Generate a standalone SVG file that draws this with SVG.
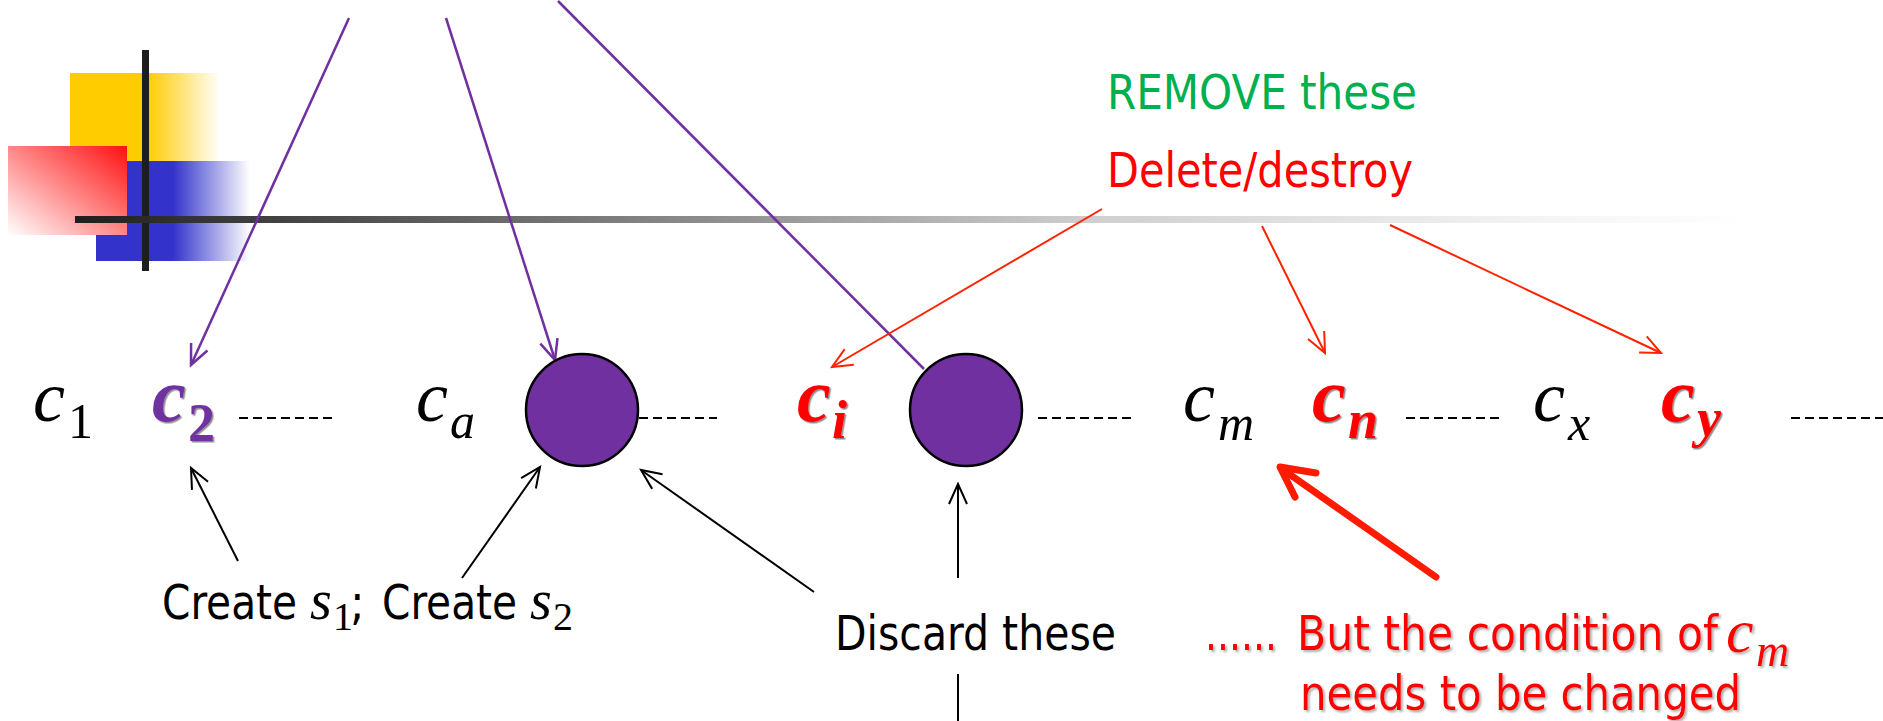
<svg xmlns="http://www.w3.org/2000/svg" width="1883" height="721" viewBox="0 0 1883 721">
  <style>
    .lbl { font-family: "DejaVu Sans", "Liberation Sans", sans-serif; font-stretch: condensed; font-size: 48px; }
    .it { font-family: "Liberation Serif", "Times New Roman", "DejaVu Serif", serif; font-style: italic; font-weight: normal; }
    .bi { font-family: "Liberation Serif", "Times New Roman", "DejaVu Serif", serif; font-style: italic; font-weight: bold; }
    .up { font-family: "Liberation Serif", "Times New Roman", "DejaVu Serif", serif; font-style: normal; font-weight: normal; }
    .bu { font-family: "Liberation Serif", "Times New Roman", "DejaVu Serif", serif; font-style: normal; font-weight: bold; }
    .dash { stroke: #000; stroke-width: 2; stroke-dasharray: 9 5; fill: none; }
    .pline { stroke: #7030A0; stroke-width: 2.5; fill: none; }
    .bline { stroke: #000; stroke-width: 2; fill: none; }
    .rline { stroke: #FF2200; stroke-width: 2; fill: none; }
    .dot { fill: #7030A0; stroke: #000; stroke-width: 2.5; }
  </style>
  <defs>
    <linearGradient id="gYellow" x1="0" y1="0" x2="1" y2="0">
      <stop offset="0" stop-color="#FFCC00"/>
      <stop offset="0.52" stop-color="#FFCC00"/>
      <stop offset="1" stop-color="#FFFFFF"/>
    </linearGradient>
    <linearGradient id="gBlue" x1="0" y1="0" x2="1" y2="0">
      <stop offset="0" stop-color="#3333CC"/>
      <stop offset="0.5" stop-color="#3333CC"/>
      <stop offset="1" stop-color="#FFFFFF"/>
    </linearGradient>
    <linearGradient id="gRed" x1="1" y1="0" x2="0" y2="1">
      <stop offset="0" stop-color="#FF1010"/>
      <stop offset="1" stop-color="#FFFFFF"/>
    </linearGradient>
    <linearGradient id="gBar" gradientUnits="userSpaceOnUse" x1="75" y1="0" x2="1750" y2="0">
      <stop offset="0" stop-color="#1E1E1E"/>
      <stop offset="0.254" stop-color="#6A6A6A"/>
      <stop offset="0.612" stop-color="#D0D0D0"/>
      <stop offset="0.881" stop-color="#F5F5F5"/>
      <stop offset="1" stop-color="#FFFFFF"/>
    </linearGradient>
    <filter id="shadow" x="-5%" y="-20%" width="110%" height="150%">
      <feDropShadow dx="2" dy="2" stdDeviation="1.2" flood-color="#707070" flood-opacity="0.55"/>
    </filter>
    <filter id="edge" x="-10%" y="-10%" width="130%" height="130%">
      <feDropShadow dx="1.5" dy="1.5" stdDeviation="0.4" flood-color="#000" flood-opacity="0.45"/>
    </filter>
    <marker id="ahPurple" viewBox="-24 -12 26 24" refX="0" refY="0" markerWidth="26" markerHeight="24" markerUnits="userSpaceOnUse" orient="auto" overflow="visible">
      <path d="M-20,-9 L0,0 L-20,9" fill="none" stroke="#7030A0" stroke-width="2.5"/>
    </marker>
    <marker id="ahBlack" viewBox="-24 -12 26 24" refX="0" refY="0" markerWidth="26" markerHeight="24" markerUnits="userSpaceOnUse" orient="auto" overflow="visible">
      <path d="M-20,-9 L0,0 L-20,9" fill="none" stroke="#000" stroke-width="2"/>
    </marker>
    <marker id="ahRed" viewBox="-24 -12 26 24" refX="0" refY="0" markerWidth="26" markerHeight="24" markerUnits="userSpaceOnUse" orient="auto" overflow="visible">
      <path d="M-20,-9 L0,0 L-20,9" fill="none" stroke="#FF2200" stroke-width="2"/>
    </marker>
  </defs>

  <rect width="1883" height="721" fill="#FFFFFF"/>

  <!-- slide ornament: coloured squares and crossing bars -->
  <g id="ornament">
    <rect x="70" y="73" width="150" height="88" fill="url(#gYellow)"/>
    <rect x="96" y="161" width="154" height="100" fill="url(#gBlue)"/>
    <rect x="8" y="146" width="119" height="89" fill="url(#gRed)"/>
    <rect x="142" y="50" width="7" height="221" fill="#1E1E1E"/>
    <rect x="75" y="216" width="1675" height="7" fill="url(#gBar)"/>
  </g>

  <!-- connectors -->
  <g id="connectors">
    <line class="pline" x1="349" y1="18" x2="191" y2="365" marker-end="url(#ahPurple)"/>
    <line class="pline" x1="446" y1="18" x2="555" y2="360" marker-end="url(#ahPurple)"/>
    <line class="pline" x1="558" y1="1" x2="924" y2="369"/>

    <line class="rline" x1="1102" y1="209" x2="832" y2="367" marker-end="url(#ahRed)"/>
    <line class="rline" x1="1262" y1="226" x2="1325" y2="353" marker-end="url(#ahRed)"/>
    <line class="rline" x1="1390" y1="225" x2="1661" y2="353" marker-end="url(#ahRed)"/>

    <line class="bline" x1="238" y1="561" x2="191" y2="468" marker-end="url(#ahBlack)"/>
    <line class="bline" x1="462" y1="578" x2="540" y2="467" marker-end="url(#ahBlack)"/>
    <line class="bline" x1="814" y1="592" x2="641" y2="470" marker-end="url(#ahBlack)"/>
    <line class="bline" x1="958" y1="578" x2="958" y2="484" marker-end="url(#ahBlack)"/>
    <line class="bline" x1="958" y1="674" x2="958" y2="721"/>

    <g stroke="#FF1A00" stroke-width="7" stroke-linecap="round" stroke-linejoin="round" fill="none">
      <line x1="1436" y1="577" x2="1282" y2="469"/>
      <path d="M1316,473 L1280,467 L1295,497"/>
    </g>

    <line class="dash" x1="239" y1="418" x2="332" y2="418"/>
    <line class="dash" x1="639" y1="418" x2="717" y2="418"/>
    <line class="dash" x1="1038" y1="418" x2="1131" y2="418"/>
    <line class="dash" x1="1406" y1="418" x2="1499" y2="418"/>
    <line class="dash" x1="1791" y1="418" x2="1883" y2="418"/>
  </g>

  <!-- sequence of conditions -->
  <g id="c1"><text class="it" x="33" y="421" font-size="72">c</text><text class="up" x="68" y="438" font-size="50">1</text></g>
  <g id="c2" fill="#7030A0" filter="url(#edge)"><text class="bi" x="152" y="421" font-size="76">c</text><text class="bu" x="188" y="441" font-size="54">2</text></g>
  <g id="ca"><text class="it" x="416" y="421" font-size="72">c</text><text class="it" x="450" y="438" font-size="50">a</text></g>
  <g id="s1"><circle class="dot" cx="582" cy="410" r="56"/></g>
  <g id="ci" fill="#FF0000" filter="url(#edge)"><text class="bi" x="797" y="421" font-size="76">c</text><text class="bi" x="832" y="438" font-size="54">i</text></g>
  <g id="s2"><circle class="dot" cx="966" cy="410" r="56"/></g>
  <g id="cm"><text class="it" x="1183" y="421" font-size="72">c</text><text class="it" x="1218" y="440" font-size="50">m</text></g>
  <g id="cn" fill="#FF0000" filter="url(#edge)"><text class="bi" x="1312" y="421" font-size="76">c</text><text class="bi" x="1348" y="438" font-size="54">n</text></g>
  <g id="cx"><text class="it" x="1533" y="421" font-size="72">c</text><text class="it" x="1568" y="440" font-size="50">x</text></g>
  <g id="cy" fill="#FF0000" filter="url(#edge)"><text class="bi" x="1661" y="421" font-size="76">c</text><text class="bi" x="1697" y="436" font-size="54">y</text></g>

  <!-- labels -->
  <g id="remove-label"><text class="lbl" x="1107" y="109" fill="#00B050" textLength="310" lengthAdjust="spacingAndGlyphs">REMOVE these</text></g>
  <g id="delete-label"><text class="lbl" x="1107" y="187" fill="#FF0000" textLength="306" lengthAdjust="spacingAndGlyphs">Delete/destroy</text></g>

  <g id="create-label">
    <text class="lbl" x="162" y="619" textLength="135" lengthAdjust="spacingAndGlyphs">Create</text>
    <text class="it" x="310" y="619" font-size="56">s</text>
    <text class="up" x="333" y="630" font-size="40">1</text>
    <text class="lbl" x="350" y="619">;</text>
    <text class="lbl" x="382" y="619" textLength="135" lengthAdjust="spacingAndGlyphs">Create</text>
    <text class="it" x="530" y="619" font-size="56">s</text>
    <text class="up" x="553" y="630" font-size="40">2</text>
  </g>

  <g id="discard-label"><text class="lbl" x="835" y="650" textLength="281" lengthAdjust="spacingAndGlyphs">Discard these</text></g>

  <g id="condition-label" fill="#FF0000" filter="url(#shadow)">
    <text class="lbl" x="1205" y="650" textLength="72" lengthAdjust="spacingAndGlyphs">......</text>
    <text class="lbl" x="1297" y="650" textLength="421" lengthAdjust="spacingAndGlyphs">But the condition of</text>
    <text class="it" x="1726" y="652" font-size="62">c</text>
    <text class="it" x="1756" y="666" font-size="46">m</text>
    <text class="lbl" x="1300" y="710" textLength="441" lengthAdjust="spacingAndGlyphs">needs to be changed</text>
  </g>
</svg>
